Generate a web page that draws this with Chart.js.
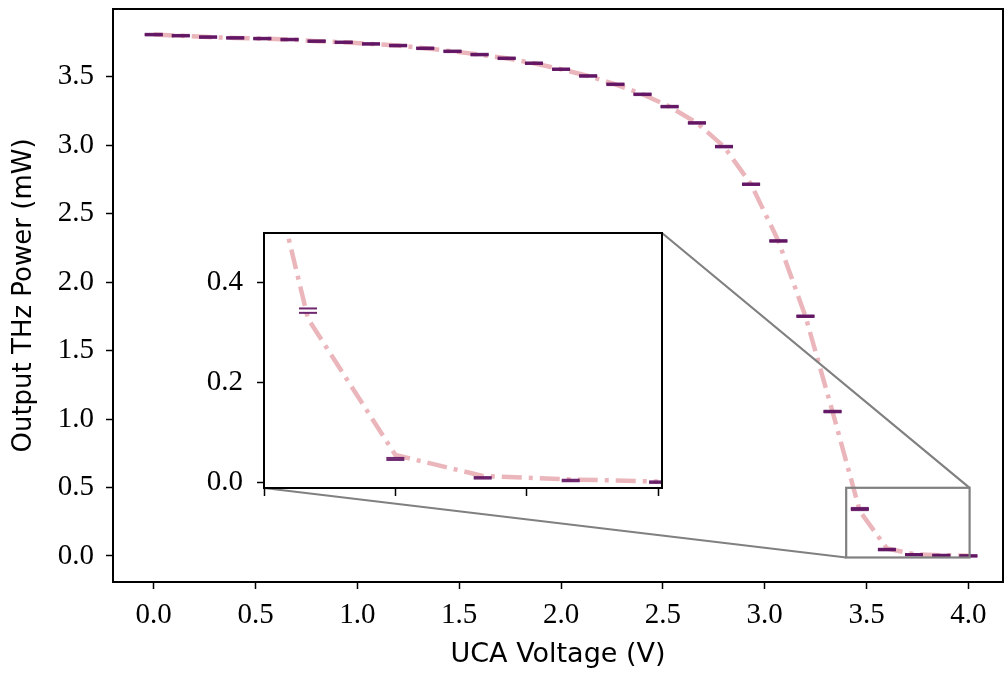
<!DOCTYPE html>
<html>
<head>
<meta charset="utf-8">
<script src="https://cdn.jsdelivr.net/npm/chart.js@4.4.1/dist/chart.umd.min.js"></script>
<style>
  html, body { margin: 0; padding: 0; background: #fff; overflow: hidden; }
  #wrap { position: relative; width: 1005px; height: 675px; }
  #main { position: absolute; left: 0; top: 0; }
  #inset { position: absolute; left: 190px; top: 225px; }
</style>
</head>
<body>
<div id="wrap">
  <canvas id="main" width="1005" height="675"></canvas>
  <canvas id="inset" width="480" height="275"></canvas>
</div>
<script>
// UCA voltage steps (V)
const voltage = [0.000, 0.133, 0.267, 0.400, 0.533, 0.667, 0.800, 0.933, 1.067, 1.200,
                 1.333, 1.467, 1.600, 1.733, 1.867, 2.000, 2.133, 2.267, 2.400, 2.533,
                 2.667, 2.800, 2.933, 3.067, 3.200, 3.333, 3.467, 3.600, 3.733, 3.867, 4.000];
// measured THz power (mW), shown as error-bar caps
const power = [3.808, 3.800, 3.790, 3.784, 3.779, 3.772, 3.760, 3.752, 3.740, 3.728,
               3.708, 3.686, 3.662, 3.635, 3.599, 3.555, 3.506, 3.445, 3.372, 3.282,
               3.163, 2.990, 2.715, 2.301, 1.751, 1.055, 0.343, 0.047, 0.0093, 0.004, 0.0007];
const powerErr = [0.002, 0.002, 0.002, 0.002, 0.002, 0.002, 0.002, 0.002, 0.002, 0.002,
                  0.002, 0.002, 0.002, 0.002, 0.002, 0.002, 0.002, 0.002, 0.002, 0.002,
                  0.002, 0.002, 0.002, 0.002, 0.002, 0.002, 0.0044, 0.002, 0.0015, 0.0015, 0.0015];
// dash-dot trend line
const trend = [3.808, 3.800, 3.790, 3.784, 3.779, 3.772, 3.760, 3.752, 3.740, 3.728,
               3.708, 3.686, 3.662, 3.635, 3.599, 3.555, 3.506, 3.445, 3.372, 3.282,
               3.163, 2.990, 2.715, 2.301, 1.751, 1.055, 0.327, 0.055, 0.013, 0.006, 0.002];

const xTicks = [0, 0.5, 1, 1.5, 2, 2.5, 3, 3.5, 4];
const yTicks = [0, 0.5, 1, 1.5, 2, 2.5, 3, 3.5];
const insetXTicks = [3.4, 3.6, 3.8, 4.0];
const insetYTicks = [0, 0.2, 0.4];
const insetX = [3.4, 4.006];
const insetY = [-0.011, 0.498];

const serif = "'Liberation Serif', 'DejaVu Serif', serif";
const sans = "'DejaVu Sans', 'Open Sans', sans-serif";
const pink = "#ebb6bb";
const purple = "rgba(98, 22, 100, 0.92)";

function pts(ys, off) {
  return voltage.map((x, i) => ({ x: x, y: ys[i] + (off ? off[i] : 0) }));
}
const negErr = powerErr.map(e => -e);

function makeDatasets(capWidth, clip) {
  return [
    { type: "scatter", data: pts(power, powerErr), pointStyle: "line", pointRadius: 9,
      pointBorderColor: purple, pointBorderWidth: capWidth, clip: clip },
    { type: "scatter", data: pts(power, negErr), pointStyle: "line", pointRadius: 9,
      pointBorderColor: purple, pointBorderWidth: capWidth, clip: clip },
    { type: "line", data: pts(trend), borderColor: pink, borderWidth: 4.5,
      borderDash: [20, 7, 4, 7], pointRadius: 0, tension: 0, clip: clip }
  ];
}

const frame = {
  id: "frame",
  beforeDraw(c, args, opts) {
    if (!opts.fill) return;
    const a = c.chartArea;
    c.ctx.save();
    c.ctx.fillStyle = "#fff";
    c.ctx.fillRect(a.left, a.top, a.right - a.left, a.bottom - a.top);
    c.ctx.restore();
  },
  afterDraw(c) {
    const a = c.chartArea;
    const ctx = c.ctx;
    ctx.save();
    ctx.strokeStyle = "#000";
    ctx.lineWidth = 2;
    ctx.strokeRect(a.left, a.top, a.right - a.left, a.bottom - a.top);
    ctx.restore();
  }
};

function tickAxis(ticks, min, max, size, opts) {
  return {
    type: "linear", min: min, max: max,
    afterBuildTicks: s => { s.ticks = ticks.map(v => ({ value: v })); },
    afterFit: s => {
      if (s.isHorizontal()) s.height = size; else s.width = size;
      s.paddingTop = 0; s.paddingBottom = 0; s.paddingLeft = 0; s.paddingRight = 0;
    },
    border: { display: false },
    grid: { drawOnChartArea: false, drawTicks: true, tickLength: opts.tickLength || 7,
            tickWidth: 1.5, tickColor: "#000" },
    ticks: { autoSkip: false, maxRotation: 0, color: "#000", padding: opts.padding,
             font: { family: serif, size: 29 },
             callback: opts.blank ? () => "" : v => Number(v).toFixed(1) },
    title: opts.title || { display: false }
  };
}

const insetChart = new Chart(document.getElementById("inset"), {
  data: { datasets: makeDatasets(2, 0) },
  options: {
    responsive: false, animation: false, events: [],
    layout: { autoPadding: false, padding: { top: 8, right: 8, left: 0, bottom: 0 } },
    plugins: { legend: { display: false }, tooltip: { enabled: false }, frame: { fill: true } },
    scales: {
      x: tickAxis(insetXTicks, insetX[0], insetX[1], 12, { blank: true, padding: 0, tickLength: 8 }),
      y: tickAxis(insetYTicks, insetY[0], insetY[1], 74, { padding: 14 })
    }
  },
  plugins: [frame]
});

const zoomMarks = {
  id: "zoomMarks",
  afterDatasetsDraw(c) {
    const ctx = c.ctx;
    const xs = c.scales.x, ys = c.scales.y;
    const l = xs.getPixelForValue(insetX[0]), r = xs.getPixelForValue(insetX[1]);
    const t = ys.getPixelForValue(insetY[1]), b = ys.getPixelForValue(insetY[0]);
    const ia = insetChart.chartArea;
    const cv = document.getElementById("inset");
    const ox = cv.offsetLeft, oy = cv.offsetTop;
    ctx.save();
    ctx.strokeStyle = "#808080";
    ctx.lineWidth = 2.2;
    ctx.strokeRect(l, t, r - l, b - t);
    ctx.beginPath();
    ctx.moveTo(ox + ia.left, oy + ia.bottom);
    ctx.lineTo(l, b);
    ctx.moveTo(ox + ia.right, oy + ia.top);
    ctx.lineTo(r, t);
    ctx.stroke();
    ctx.restore();
  }
};

new Chart(document.getElementById("main"), {
  data: { datasets: makeDatasets(3) },
  options: {
    responsive: false, animation: false, events: [],
    layout: { autoPadding: false, padding: { top: 9, right: 2, left: 0, bottom: 0 } },
    plugins: { legend: { display: false }, tooltip: { enabled: false }, frame: { fill: false } },
    scales: {
      x: tickAxis(xTicks, -0.2, 4.17, 93, {
        padding: 9,
        title: { display: true, text: "UCA Voltage (V)", color: "#000",
                 font: { family: sans, size: 27 }, padding: { top: 0, bottom: 4 } }
      }),
      y: tickAxis(yTicks, -0.19, 3.995, 113, {
        padding: 12,
        title: { display: true, text: "Output THz Power (mW)", color: "#000",
                 font: { family: sans, size: 26 }, padding: { top: 9, bottom: 0 } }
      })
    }
  },
  plugins: [frame, zoomMarks]
});
</script>
</body>
</html>
